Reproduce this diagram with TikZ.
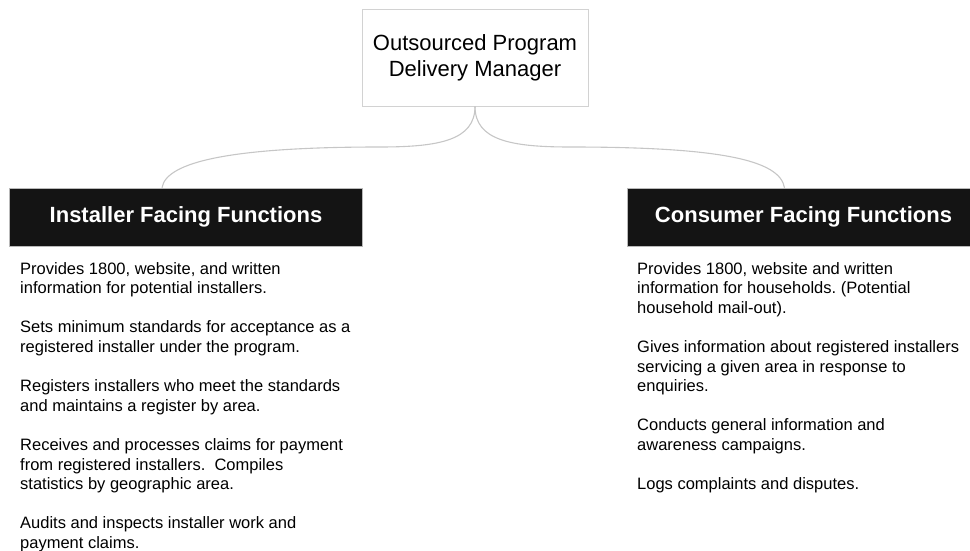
\documentclass[tikz,border=0pt]{standalone}
\usepackage{fontspec}
\setmainfont{Liberation Sans}
\usetikzlibrary{positioning,calc}
\frenchspacing

\begin{document}
\begin{tikzpicture}[x=1pt, y=-1pt,
  manager/.style={draw=gray!35, line width=0.6pt, minimum width=226pt, minimum height=97pt,
    align=center, font=\fontsize{22}{26}\selectfont},
  header/.style={fill=black!92, draw=gray!55, text=white, minimum width=353pt, minimum height=58pt,
    font=\fontsize{22}{26}\selectfont\bfseries},
  duties/.style={anchor=north west, inner sep=0pt, align=left, font=\fontsize{16.5}{19.6}\selectfont},
  branch/.style={draw=gray!45, line width=1.1pt}]
  \useasboundingbox (0,0) rectangle (970,551);

  \coordinate (lbend) at (380,147);
  \coordinate (rbend) at (570,147);

  \node[manager] (odm) at (475,57.5) {Outsourced Program\\ Delivery Manager};
  \node[header] (inst) at (186,217) {Installer Facing Functions};
  \node[header] (cons) at (803.5,217) {Consumer Facing Functions};

  \node[duties] (instlist) at (20,262) {Provides 1800, website, and written\\
    information for potential installers.\\[19.6pt]
    Sets minimum standards for acceptance as a\\
    registered installer under the program.\\[19.6pt]
    Registers installers who meet the standards\\
    and maintains a register by area.\\[19.6pt]
    Receives and processes claims for payment\\
    from registered installers.\ \ Compiles\\
    statistics by geographic area.\\[19.6pt]
    Audits and inspects installer work and\\
    payment claims.};
  \node[duties] (conslist) at (637,262) {Provides 1800, website and written\\
    information for households. (Potential\\
    household mail-out).\\[19.6pt]
    Gives information about registered installers\\
    servicing a given area in response to\\
    enquiries.\\[19.6pt]
    Conducts general information and\\
    awareness campaigns.\\[19.6pt]
    Logs complaints and disputes.};

  \draw[branch] (odm.south) .. controls (475,140) and (440,147) .. (lbend)
    .. controls (230,147) and (166,162) .. ($(inst.north)+(-24,0)$);
  \draw[branch] (odm.south) .. controls (475,140) and (510,147) .. (rbend)
    .. controls (720,147) and (780,160) .. ($(cons.north)+(-19,0)$);
\end{tikzpicture}
\end{document}
